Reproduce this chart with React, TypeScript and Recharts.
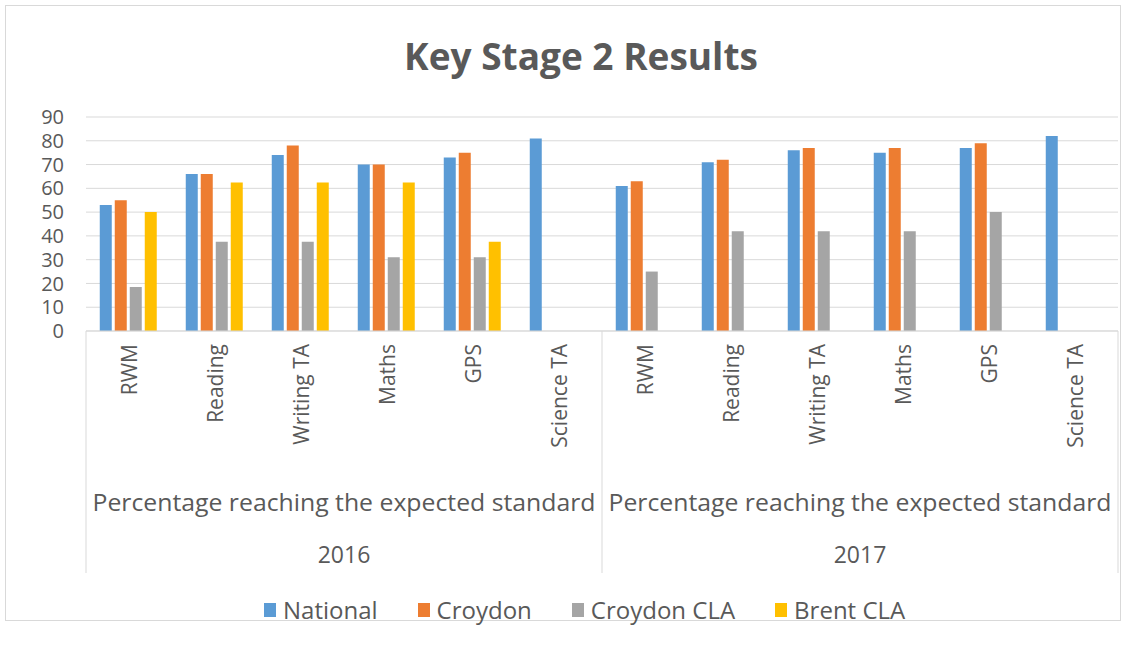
import { BarChart, Bar, XAxis, YAxis, CartesianGrid, Legend } from "recharts";

const categories = ["RWM", "Reading", "Writing TA", "Maths", "GPS", "Science TA"];
const years = ["2016", "2017"];
const groupLabel = "Percentage reaching the expected standard";

const national = [53, 66, 74, 70, 73, 81, 61, 71, 76, 75, 77, 82];
const croydon = [55, 66, 78, 70, 75, null, 63, 72, 77, 77, 79, null];
const croydonCla = [18.5, 37.5, 37.5, 31, 31, null, 25, 42, 42, 42, 50, null];
const brentCla = [50, 62.5, 62.5, 62.5, 37.5, null, null, null, null, null, null, null];

const yTicks = [0, 10, 20, 30, 40, 50, 60, 70, 80, 90];

const series = [
  { key: "national", label: "National", color: "#5B9BD5" },
  { key: "croydon", label: "Croydon", color: "#ED7D31" },
  { key: "croydonCla", label: "Croydon CLA", color: "#A5A5A5" },
  { key: "brentCla", label: "Brent CLA", color: "#FFC000" },
];

const rows = years.flatMap((yr, yi) =>
  categories.map((cat, ci) => {
    const i = yi * categories.length + ci;
    return {
      id: `${yr}-${cat}`,
      cat,
      pos: i + 0.5,
      national: national[i],
      croydon: croydon[i],
      croydonCla: croydonCla[i],
      brentCla: brentCla[i],
    };
  })
);

const FONT = "'Open Sans', sans-serif";
const TEXT = "#595959";
const LINE = "#d9d9d9";

function CategoryTick(props: any) {
  const { x, y, payload } = props;
  const label = rows[payload.index]?.cat ?? "";
  const ty = y + 5;
  return (
    <text
      x={x}
      y={ty}
      transform={`rotate(-90 ${x} ${ty})`}
      textAnchor="end"
      dominantBaseline="central"
      fontFamily={FONT}
      fontSize={21}
      fill={TEXT}
    >
      {label}
    </text>
  );
}

function GroupTick(props: any) {
  const { x, y, payload } = props;
  const v = payload.value;
  if (v % 6 === 0) {
    return <line x1={x} x2={x} y1={y - 170} y2={y + 72} stroke={LINE} strokeWidth={1} />;
  }
  const yr = years[Math.floor(v / 6)];
  return (
    <g>
      <text
        x={x}
        y={y + 1}
        textAnchor="middle"
        dominantBaseline="central"
        fontFamily={FONT}
        fontSize={23}
        fill={TEXT}
        textLength={503}
        lengthAdjust="spacingAndGlyphs"
      >
        {groupLabel}
      </text>
      <text x={x} y={y + 53} textAnchor="middle" dominantBaseline="central" fontFamily={FONT} fontSize={23} fill={TEXT}>
        {yr}
      </text>
    </g>
  );
}

function LegendContent() {
  return (
    <div style={{ display: "flex", gap: 40, fontFamily: FONT, fontSize: 24, color: TEXT, alignItems: "center" }}>
      {series.map((s) => (
        <span key={s.key} style={{ display: "flex", alignItems: "center" }}>
          <span style={{ display: "inline-block", width: 12, height: 14, background: s.color, marginRight: 7 }} />
          {s.label}
        </span>
      ))}
    </div>
  );
}

export default function App() {
  return (
    <div style={{ position: "absolute", left: 0, top: 0, width: 1140, height: 649, background: "#fff" }}>
      <div
        style={{
          position: "absolute",
          left: 5,
          top: 5,
          width: 1116,
          height: 616,
          border: `1px solid ${LINE}`,
          boxSizing: "border-box",
        }}
      />
      <div
        style={{
          position: "absolute",
          left: 0,
          top: 30,
          width: 1162,
          textAlign: "center",
          fontFamily: FONT,
          fontWeight: 700,
          fontSize: 37,
          color: TEXT,
        }}
      >
        Key Stage 2 Results
      </div>
      <BarChart
        width={1140}
        height={649}
        data={rows}
        margin={{ top: 117, right: 22, left: 0, bottom: 22 }}
        barCategoryGap="16%"
        barGap={3}
        style={{ position: "absolute", left: 0, top: 0 }}
      >
        <CartesianGrid vertical={false} stroke={LINE} />
        <XAxis
          dataKey="id"
          height={162}
          tick={<CategoryTick />}
          tickLine={false}
          axisLine={{ stroke: LINE }}
          interval={0}
        />
        <XAxis
          xAxisId="grp"
          dataKey="pos"
          type="number"
          domain={[0, 12]}
          allowDataOverflow
          ticks={[0, 3, 6, 9, 12]}
          interval={0}
          height={104}
          tick={<GroupTick />}
          tickLine={false}
          axisLine={false}
        />
        <YAxis
          width={86}
          domain={[0, 90]}
          ticks={yTicks}
          interval={0}
          tickLine={false}
          axisLine={false}
          tickMargin={16}
          tick={{ fontFamily: FONT, fontSize: 20, fill: TEXT }}
        />
        <Legend
          verticalAlign="bottom"
          content={<LegendContent />}
          wrapperStyle={{ left: 264, width: "auto", bottom: 26, height: 30 }}
        />
        {series.map((s) => (
          <Bar key={s.key} dataKey={s.key} name={s.label} fill={s.color} isAnimationActive={false} />
        ))}
      </BarChart>
    </div>
  );
}
